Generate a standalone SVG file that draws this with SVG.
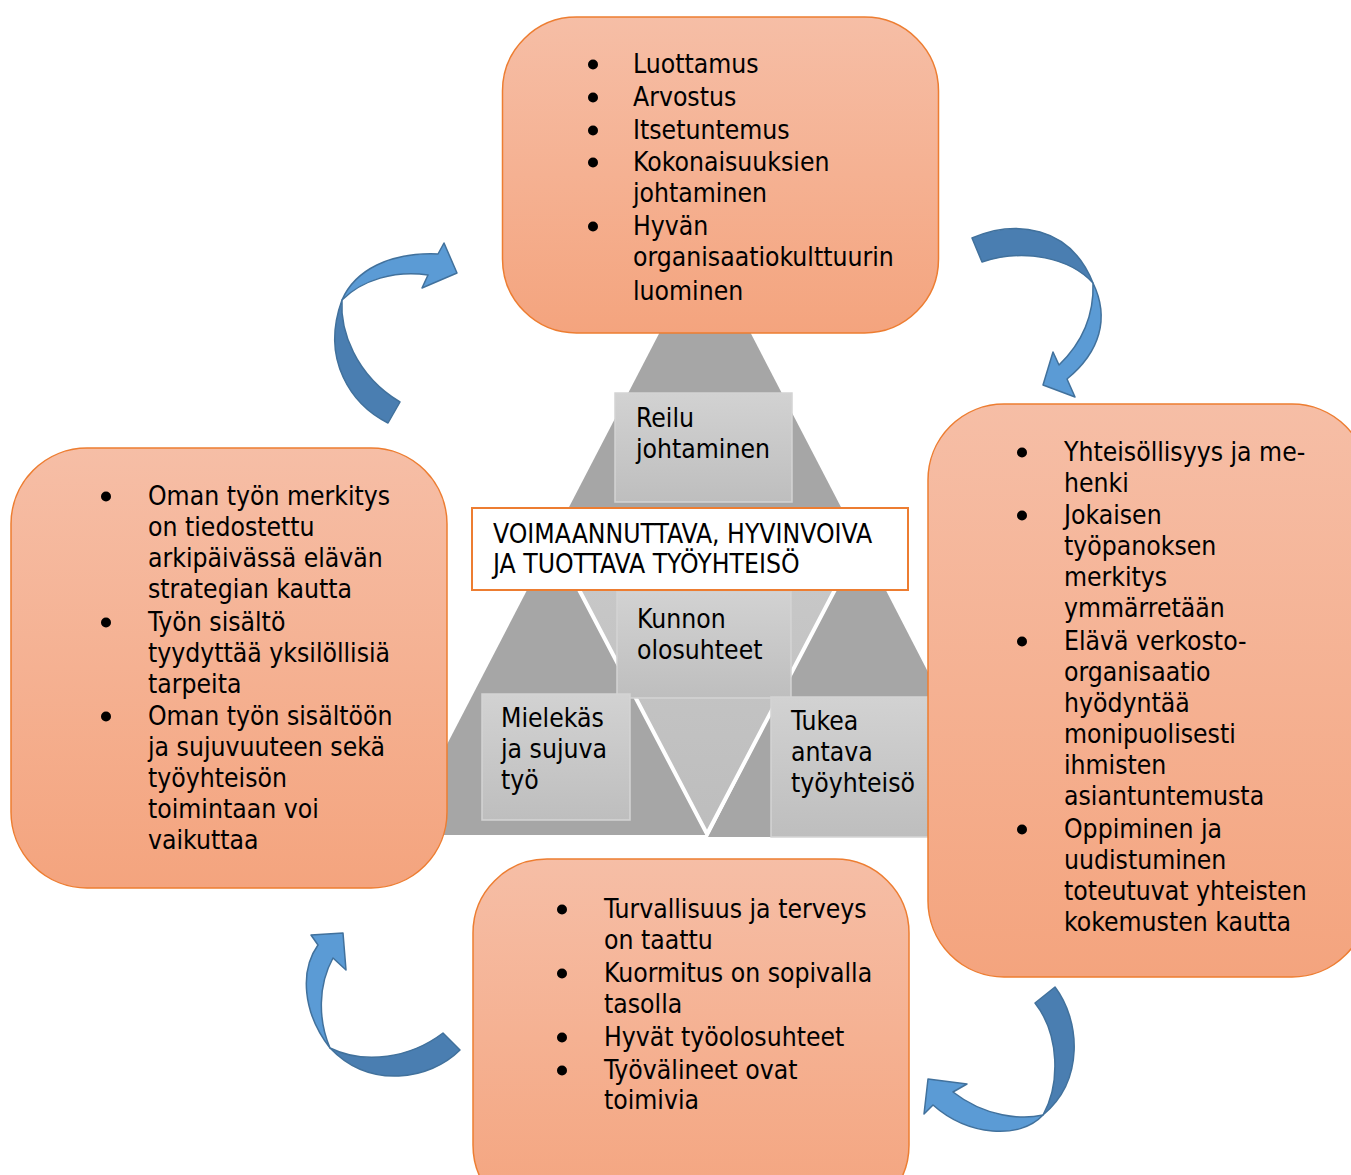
<svg xmlns="http://www.w3.org/2000/svg" width="1351" height="1175" viewBox="0 0 1351 1175">
<defs>
<linearGradient id="og" x1="0" y1="0" x2="0" y2="1">
<stop offset="0" stop-color="#F6BEA6"/>
<stop offset="1" stop-color="#F4A47E"/>
</linearGradient>
<linearGradient id="gg" x1="0" y1="0" x2="0" y2="1">
<stop offset="0" stop-color="#D2D2D2"/>
<stop offset="1" stop-color="#BEBEBE"/>
</linearGradient>
<linearGradient id="ig" x1="0" y1="0" x2="0" y2="1">
<stop offset="0" stop-color="#C9C9C9"/>
<stop offset="1" stop-color="#BDBDBD"/>
</linearGradient>
<style>
.t{font-family:"DejaVu Sans Condensed","DejaVu Sans",sans-serif;font-stretch:condensed;font-size:26.3px;fill:#000}
.ob{fill:url(#og);stroke:#ED7D31;stroke-width:1.5}
.gb{fill:url(#gg);stroke:#D4D4D4;stroke-width:1.5}
.tri{fill:#A6A6A6}
.al{fill:#5B9BD5;stroke:#41719C;stroke-width:1.5;stroke-linejoin:round}
.ad{fill:#4A7EB1;stroke:#41719C;stroke-width:1.5;stroke-linejoin:round}
.bl{fill:#000}
</style>
</defs>
<rect width="1351" height="1175" fill="#fff"/>

<g id="pyramid">
<polygon class="tri" points="705,245 553,538 857,538"/>
<polygon class="tri" points="553,540 400,835 706,835"/>
<polygon class="tri" points="860,540 708,837 1013,837"/>
<polygon points="553,540 861,540 707,834" fill="url(#ig)" stroke="#fff" stroke-width="4" stroke-linejoin="miter"/>
</g>

<g id="node-reilu">
<rect class="gb" x="615" y="393" width="177" height="109"/>
<text class="t" x="636" y="427">Reilu</text>
<text class="t" x="636" y="458">johtaminen</text>
</g>
<g id="node-kunnon">
<rect class="gb" x="617" y="592" width="174" height="106"/>
<text class="t" x="637" y="628">Kunnon</text>
<text class="t" x="637" y="659">olosuhteet</text>
</g>
<g id="node-mielekas">
<rect class="gb" x="482" y="694" width="148" height="126"/>
<text class="t" x="501" y="727">Mielekäs</text>
<text class="t" x="501" y="758">ja sujuva</text>
<text class="t" x="501" y="789">työ</text>
</g>
<g id="node-tukea">
<rect class="gb" x="771" y="697" width="170" height="140"/>
<text class="t" x="791" y="730">Tukea</text>
<text class="t" x="791" y="761">antava</text>
<text class="t" x="791" y="792">työyhteisö</text>
</g>

<g id="node-center">
<rect x="472" y="508" width="436" height="82" fill="#fff" stroke="#ED7D31" stroke-width="2"/>
<text class="t" x="493" y="543">VOIMAANNUTTAVA, HYVINVOIVA</text>
<text class="t" x="493" y="573">JA TUOTTAVA TYÖYHTEISÖ</text>
</g>

<g id="node-top">
<rect class="ob" x="502.5" y="17" width="436" height="316" rx="74" ry="74"/>
<circle class="bl" cx="593" cy="64.5" r="5"/>
<circle class="bl" cx="593" cy="97.5" r="5"/>
<circle class="bl" cx="593" cy="130.5" r="5"/>
<circle class="bl" cx="593" cy="162.5" r="5"/>
<circle class="bl" cx="593" cy="226.5" r="5"/>
<text class="t" x="633" y="73">Luottamus</text>
<text class="t" x="633" y="106">Arvostus</text>
<text class="t" x="633" y="139">Itsetuntemus</text>
<text class="t" x="633" y="171">Kokonaisuuksien</text>
<text class="t" x="633" y="202">johtaminen</text>
<text class="t" x="633" y="235">Hyvän</text>
<text class="t" x="633" y="266">organisaatiokulttuurin</text>
<text class="t" x="633" y="300">luominen</text>
</g>

<g id="node-left">
<rect class="ob" x="11" y="448" width="436" height="440" rx="76" ry="76"/>
<circle class="bl" cx="106" cy="496.5" r="5"/>
<circle class="bl" cx="106" cy="622.5" r="5"/>
<circle class="bl" cx="106" cy="716.5" r="5"/>
<text class="t" x="148" y="505">Oman työn merkitys</text>
<text class="t" x="148" y="536">on tiedostettu</text>
<text class="t" x="148" y="567">arkipäivässä elävän</text>
<text class="t" x="148" y="598">strategian kautta</text>
<text class="t" x="148" y="631">Työn sisältö</text>
<text class="t" x="148" y="662">tyydyttää yksilöllisiä</text>
<text class="t" x="148" y="693">tarpeita</text>
<text class="t" x="148" y="725">Oman työn sisältöön</text>
<text class="t" x="148" y="756">ja sujuvuuteen sekä</text>
<text class="t" x="148" y="787">työyhteisön</text>
<text class="t" x="148" y="818">toimintaan voi</text>
<text class="t" x="148" y="849">vaikuttaa</text>
</g>

<g id="node-right">
<rect class="ob" x="928" y="404" width="440" height="573" rx="76" ry="76"/>
<circle class="bl" cx="1022" cy="452.5" r="5"/>
<circle class="bl" cx="1022" cy="515.5" r="5"/>
<circle class="bl" cx="1022" cy="641.5" r="5"/>
<circle class="bl" cx="1022" cy="829.5" r="5"/>
<text class="t" x="1064" y="461">Yhteisöllisyys ja me-</text>
<text class="t" x="1064" y="492">henki</text>
<text class="t" x="1064" y="524">Jokaisen</text>
<text class="t" x="1064" y="555">työpanoksen</text>
<text class="t" x="1064" y="586">merkitys</text>
<text class="t" x="1064" y="617">ymmärretään</text>
<text class="t" x="1064" y="650">Elävä verkosto-</text>
<text class="t" x="1064" y="681">organisaatio</text>
<text class="t" x="1064" y="712">hyödyntää</text>
<text class="t" x="1064" y="743">monipuolisesti</text>
<text class="t" x="1064" y="774">ihmisten</text>
<text class="t" x="1064" y="805">asiantuntemusta</text>
<text class="t" x="1064" y="838">Oppiminen ja</text>
<text class="t" x="1064" y="869">uudistuminen</text>
<text class="t" x="1064" y="900">toteutuvat yhteisten</text>
<text class="t" x="1064" y="931">kokemusten kautta</text>
</g>

<g id="node-bottom">
<rect class="ob" x="473" y="859" width="436" height="360" rx="74" ry="74"/>
<circle class="bl" cx="562" cy="909.5" r="5"/>
<circle class="bl" cx="562" cy="973.5" r="5"/>
<circle class="bl" cx="562" cy="1037.5" r="5"/>
<circle class="bl" cx="562" cy="1070.5" r="5"/>
<text class="t" x="604" y="918">Turvallisuus ja terveys</text>
<text class="t" x="604" y="949">on taattu</text>
<text class="t" x="604" y="982">Kuormitus on sopivalla</text>
<text class="t" x="604" y="1013">tasolla</text>
<text class="t" x="604" y="1046">Hyvät työolosuhteet</text>
<text class="t" x="604" y="1079">Työvälineet ovat</text>
<text class="t" x="604" y="1109">toimivia</text>
</g>

<g id="connectors">
<g id="arrow-top-left">
<path class="ad" d="M400,402 L388,423 C352,405 320,360 342,300 C340,330 355,375 400,402 Z"/>
<path class="al" d="M342,300 C355,270 390,252 438,254 L444,243 L457,273 L422,288 L428,275 C395,270 362,280 342,300 Z"/>
</g>
<g id="arrow-top-right">
<path class="ad" d="M972,238 C1015,220 1070,225 1093,283 C1070,258 1025,248 982,262 Z"/>
<path class="al" d="M1093,283 C1110,318 1100,352 1067,379 L1075,397 L1043,385 L1053,352 L1059,365 C1085,340 1094,312 1093,283 Z"/>
</g>
<g id="arrow-bottom-right">
<path class="ad" d="M1055,987 C1080,1020 1085,1080 1043,1115 C1060,1085 1060,1035 1035,1003 Z"/>
<path class="al" d="M1043,1115 C1020,1140 968,1136 933,1105 L924,1114 L928,1079 L967,1084 L953,1092 C985,1117 1022,1120 1043,1115 Z"/>
</g>
<g id="arrow-bottom-left">
<path class="ad" d="M460,1050 C430,1080 370,1090 330,1048 C365,1065 410,1058 443,1033 Z"/>
<path class="al" d="M330,1048 C302,1012 300,970 318,945 L311,935 L343,933 L346,970 L333,958 C318,985 318,1020 330,1048 Z"/>
</g>
</g>
</svg>
